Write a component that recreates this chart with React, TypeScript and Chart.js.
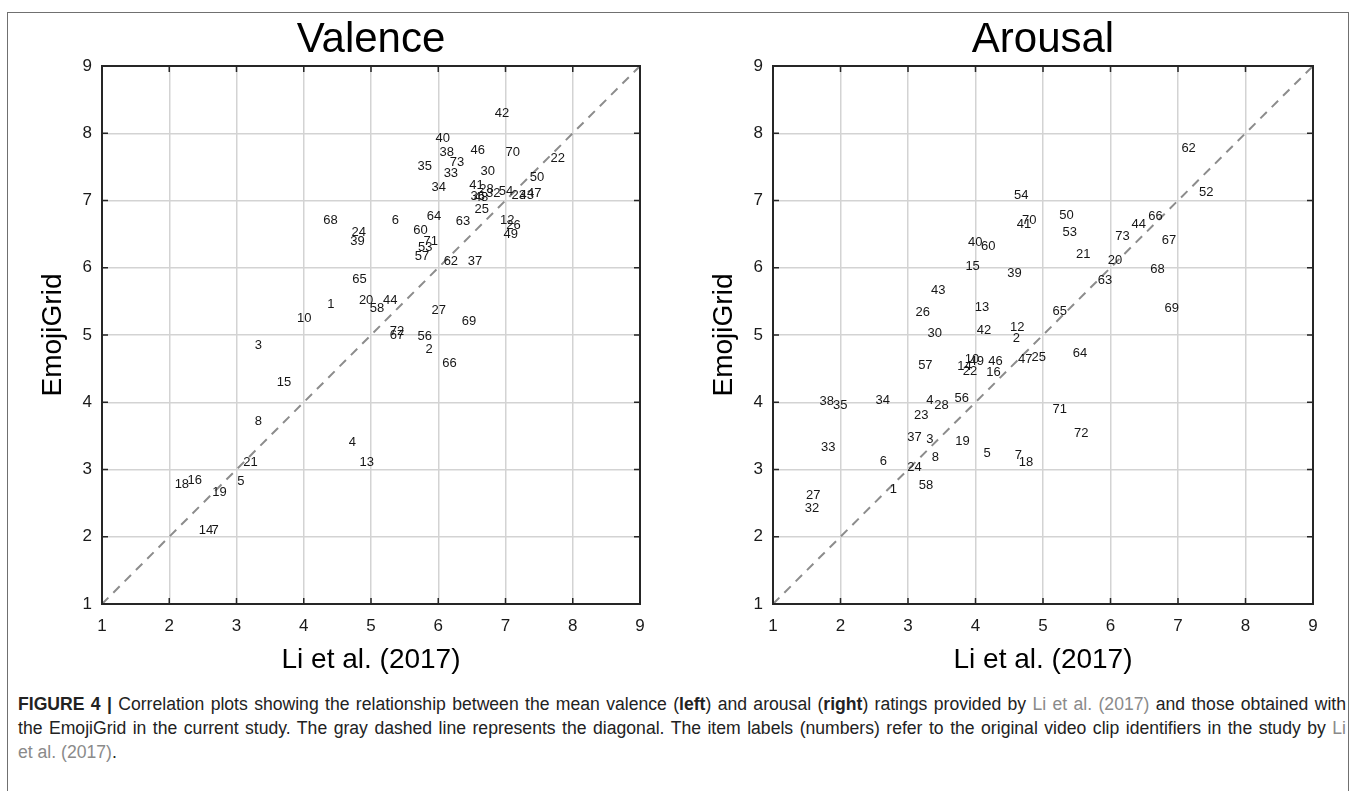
import React, { useEffect, useRef } from "react";
import { Chart, registerables } from "chart.js";

Chart.register(...registerables);

// ---------- data ----------
const valenceIds = [42, 40, 38, 73, 46, 70, 22, 35, 33, 30, 50, 34, 41, 28, 32, 36, 48, 25, 54, 23, 43, 47, 63, 12, 26, 49, 68, 6, 64, 60, 24, 39, 71, 53, 57, 62, 37, 65, 1, 20, 58, 44, 10, 27, 69, 72, 67, 56, 2, 66, 3, 15, 8, 4, 13, 21, 5, 18, 16, 19, 14, 7];
const valenceLi = [6.84, 5.96, 6.02, 6.17, 6.48, 7.0, 7.67, 5.69, 6.08, 6.63, 7.36, 5.9, 6.46, 6.61, 6.71, 6.48, 6.53, 6.54, 6.9, 7.09, 7.21, 7.32, 6.26, 6.92, 7.01, 6.97, 4.29, 5.31, 5.83, 5.63, 4.71, 4.69, 5.78, 5.7, 5.65, 6.08, 6.44, 4.72, 4.35, 4.82, 4.98, 5.18, 3.9, 5.9, 6.35, 5.28, 5.28, 5.69, 5.81, 6.06, 3.27, 3.6, 3.27, 4.67, 4.83, 3.1, 3.01, 2.08, 2.27, 2.64, 2.44, 2.63];
const valenceGrid = [8.3, 7.92, 7.71, 7.57, 7.75, 7.71, 7.62, 7.5, 7.4, 7.43, 7.34, 7.2, 7.22, 7.16, 7.11, 7.06, 7.04, 6.87, 7.14, 7.08, 7.07, 7.1, 6.69, 6.7, 6.63, 6.49, 6.71, 6.7, 6.77, 6.55, 6.53, 6.39, 6.39, 6.3, 6.17, 6.09, 6.09, 5.83, 5.45, 5.52, 5.39, 5.52, 5.25, 5.37, 5.2, 5.06, 5.0, 4.98, 4.79, 4.58, 4.85, 4.29, 3.72, 3.41, 3.1, 3.1, 2.83, 2.78, 2.84, 2.66, 2.09, 2.09];

const arousalIds = [62, 52, 54, 50, 70, 41, 53, 66, 44, 73, 67, 40, 60, 21, 20, 68, 15, 39, 63, 43, 13, 26, 65, 69, 30, 42, 12, 2, 64, 57, 14, 10, 49, 22, 46, 16, 47, 25, 38, 35, 34, 4, 28, 56, 71, 23, 72, 37, 3, 19, 33, 8, 5, 7, 18, 6, 24, 58, 1, 27, 32];
const arousalLi = [7.05, 7.31, 4.57, 5.24, 4.69, 4.61, 5.29, 6.56, 6.31, 6.07, 6.76, 3.89, 4.08, 5.49, 5.96, 6.59, 3.85, 4.47, 5.81, 3.34, 3.99, 3.11, 5.14, 6.8, 3.29, 4.02, 4.51, 4.55, 5.44, 3.15, 3.73, 3.84, 3.91, 3.81, 4.19, 4.16, 4.63, 4.83, 1.69, 1.89, 2.52, 3.27, 3.39, 3.69, 5.14, 3.09, 5.46, 2.99, 3.27, 3.7, 1.71, 3.35, 4.12, 4.58, 4.64, 2.58, 2.99, 3.16, 2.73, 1.49, 1.47];
const arousalGrid = [7.77, 7.12, 7.07, 6.78, 6.7, 6.64, 6.53, 6.76, 6.64, 6.47, 6.4, 6.37, 6.32, 6.2, 6.11, 5.97, 6.02, 5.91, 5.81, 5.66, 5.41, 5.34, 5.35, 5.39, 5.02, 5.07, 5.11, 4.95, 4.73, 4.55, 4.53, 4.64, 4.61, 4.46, 4.61, 4.45, 4.64, 4.67, 4.01, 3.96, 4.03, 4.03, 3.96, 4.06, 3.89, 3.8, 3.54, 3.47, 3.44, 3.42, 3.33, 3.18, 3.24, 3.21, 3.1, 3.12, 3.03, 2.77, 2.7, 2.61, 2.42];

const axisMin = 1;
const axisMax = 9;
const diagonal = [1, 9];

const FONT = "'Liberation Sans', Arial, Helvetica, sans-serif";

// ---------- plugins ----------
const idLabelPlugin = {
  id: "idLabels",
  afterDatasetsDraw(chart: any) {
    const ctx = chart.ctx;
    chart.data.datasets.forEach((ds: any, di: number) => {
      if (!ds.idLabels) return;
      const meta = chart.getDatasetMeta(di);
      ctx.save();
      ctx.font = `13px ${FONT}`;
      ctx.fillStyle = "#161616";
      ctx.textAlign = "left";
      ctx.textBaseline = "middle";
      meta.data.forEach((el: any, i: number) => {
        ctx.fillText(String(ds.idLabels[i]), el.x, el.y);
      });
      ctx.restore();
    });
  },
};

const boxPlugin = {
  id: "boxTicks",
  afterDraw(chart: any) {
    const { ctx, chartArea: a, scales } = chart;
    ctx.save();
    ctx.strokeStyle = "#262626";
    ctx.lineWidth = 2;
    ctx.strokeRect(a.left, a.top, a.right - a.left, a.bottom - a.top);
    ctx.lineWidth = 1.5;
    ctx.beginPath();
    const L = 6;
    scales.x.ticks.forEach((t: any) => {
      const px = scales.x.getPixelForValue(t.value);
      ctx.moveTo(px, a.bottom);
      ctx.lineTo(px, a.bottom - L);
      ctx.moveTo(px, a.top);
      ctx.lineTo(px, a.top + L);
    });
    scales.y.ticks.forEach((t: any) => {
      const py = scales.y.getPixelForValue(t.value);
      ctx.moveTo(a.left, py);
      ctx.lineTo(a.left + L, py);
      ctx.moveTo(a.right, py);
      ctx.lineTo(a.right - L, py);
    });
    ctx.stroke();
    ctx.restore();
  },
};

function makeConfig(title: string, ids: number[], xs: number[], ys: number[], padLeft: number, padRight: number) {
  return {
    type: "scatter",
    data: {
      datasets: [
        {
          type: "line",
          data: diagonal.map((v) => ({ x: v, y: v })),
          borderColor: "#8c8c8c",
          borderWidth: 2,
          borderDash: [9, 7],
          pointRadius: 0,
          fill: false,
        },
        {
          type: "scatter",
          data: xs.map((x, i) => ({ x, y: ys[i] })),
          pointRadius: 0,
          idLabels: ids,
        },
      ],
    },
    options: {
      animation: false,
      responsive: false,
      maintainAspectRatio: false,
      layout: { padding: { left: padLeft, right: padRight, top: 0, bottom: 0 } },
      plugins: {
        legend: { display: false },
        tooltip: { enabled: false },
        title: {
          display: true,
          fullSize: false,
          text: title,
          color: "#000",
          font: { family: FONT, size: 42, weight: "normal", lineHeight: 1.2 },
          padding: { top: 15.6, bottom: 0 },
        },
      },
      scales: {
        x: {
          type: "linear",
          min: axisMin,
          max: axisMax,
          ticks: { stepSize: 1, color: "#1a1a1a", font: { family: FONT, size: 17 }, padding: 12, maxRotation: 0 },
          grid: { color: "#d3d3d3", lineWidth: 1.5, drawTicks: false },
          border: { display: true, color: "#262626", width: 2 },
          title: { display: true, text: "Li et al. (2017)", color: "#000", font: { family: FONT, size: 28 }, padding: 0 },
          afterFit(s: any) {
            s.height = 73;
          },
        },
        y: {
          type: "linear",
          min: axisMin,
          max: axisMax,
          ticks: { stepSize: 1, color: "#1a1a1a", font: { family: FONT, size: 17 }, padding: 10 },
          grid: { color: "#d3d3d3", lineWidth: 1.5, drawTicks: false },
          border: { display: true, color: "#262626", width: 2 },
          title: { display: true, text: "EmojiGrid", color: "#000", font: { family: FONT, size: 28 }, padding: 0 },
          afterFit(s: any) {
            s.width = 66;
          },
        },
      },
    },
    plugins: [idLabelPlugin, boxPlugin],
  };
}

function Plot(props: { title: string; ids: number[]; xs: number[]; ys: number[]; left: number; width: number; padLeft: number; padRight: number }) {
  const ref = useRef<HTMLCanvasElement | null>(null);
  useEffect(() => {
    if (!ref.current) return;
    const chart = new Chart(ref.current, makeConfig(props.title, props.ids, props.xs, props.ys, props.padLeft, props.padRight) as any);
    return () => chart.destroy();
  }, []);
  return (
    <canvas
      ref={ref}
      width={props.width}
      height={677}
      style={{ position: "absolute", left: props.left, top: 0, width: props.width, height: 677 }}
    />
  );
}

const gray = { color: "#8a8a8a" };

export default function App() {
  return (
    <div style={{ position: "absolute", left: 0, top: 0, width: 1358, height: 791, overflow: "hidden", background: "#fff" }}>
      <div
        style={{
          position: "absolute",
          left: 7,
          top: 12,
          width: 1342,
          height: 820,
          border: "1.5px solid #707070",
          boxSizing: "border-box",
        }}
      />
      <Plot title="Valence" ids={valenceIds} xs={valenceLi} ys={valenceGrid} left={0} width={680} padLeft={36} padRight={40} />
      <Plot title="Arousal" ids={arousalIds} xs={arousalLi} ys={arousalGrid} left={680} width={678} padLeft={27} padRight={45} />
      <div
        style={{
          position: "absolute",
          left: 18,
          top: 692,
          width: 1328,
          fontFamily: FONT,
          fontSize: 17.6,
          lineHeight: "24px",
          color: "#222",
        }}
      >
        <div style={{ textAlign: "justify", textAlignLast: "justify", whiteSpace: "nowrap" as any }}>
          <b>FIGURE 4 |</b> Correlation plots showing the relationship between the mean valence (<b>left</b>) and arousal (<b>right</b>) ratings provided by <span style={gray}>Li et al. (2017)</span> and those obtained with
        </div>
        <div style={{ textAlign: "justify", textAlignLast: "justify", whiteSpace: "nowrap" as any }}>
          the EmojiGrid in the current study. The gray dashed line represents the diagonal. The item labels (numbers) refer to the original video clip identifiers in the study by <span style={gray}>Li</span>
        </div>
        <div>
          <span style={gray}>et al. (2017)</span>.
        </div>
      </div>
    </div>
  );
}
